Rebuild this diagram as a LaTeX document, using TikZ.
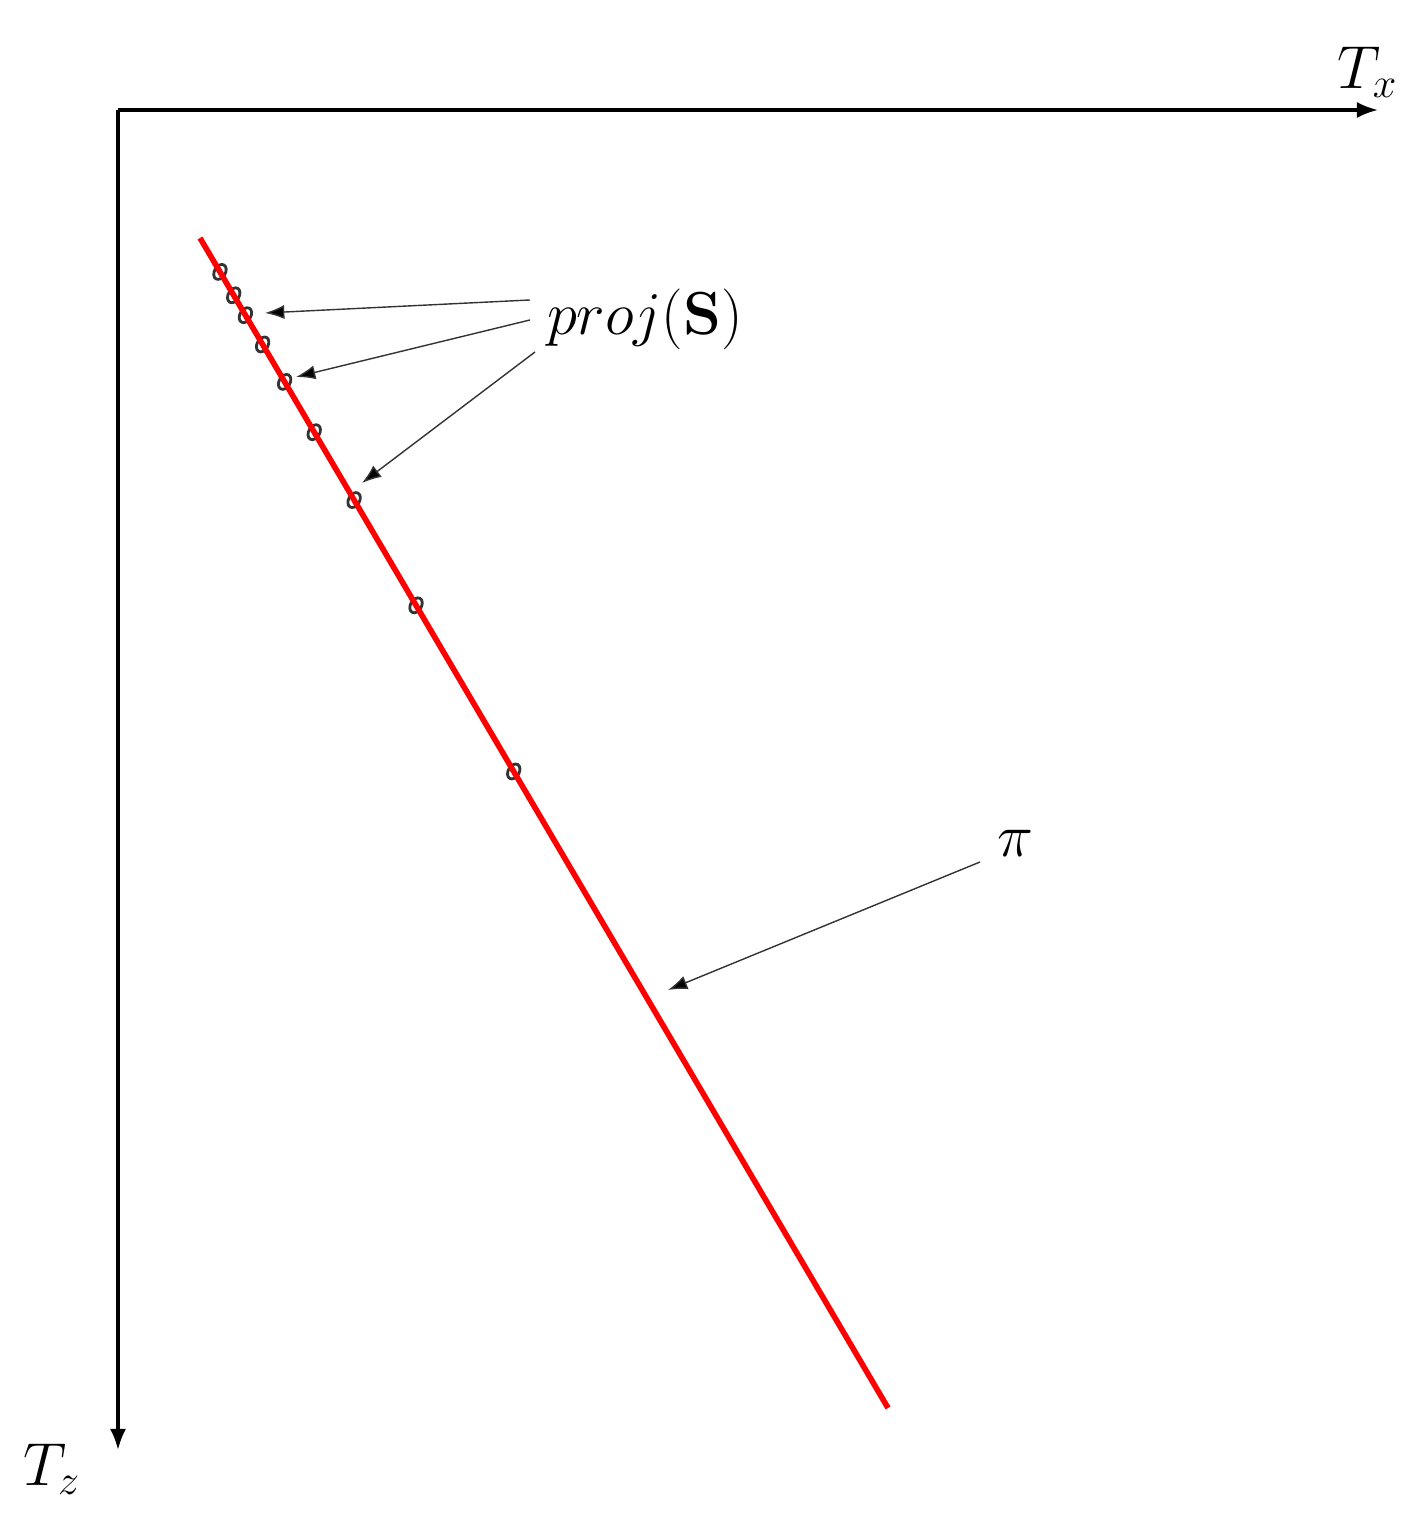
\documentclass[tikz,border=0pt]{standalone}
\usepackage{amsmath}
\usepackage{amssymb}
\usepackage{tikz}
\usetikzlibrary{calc,arrows.meta}

\begin{document}
\begin{tikzpicture}[axis/.style={line width=0.9pt,-{Latex[length=6pt,width=4.6pt]}},
	pointer/.style={line width=0.4pt,black!80,-{Latex[length=5.5pt,width=4pt,fill=black]}},
	lbl/.style={font=\fontsize{17}{20}\selectfont}]
	\useasboundingbox (0,0) rectangle (14.27,15.19);
	\coordinate (O) at (1.18,14.09);
	\coordinate (X) at (13.78,14.09);
	\coordinate (Z) at (1.18,0.69);
	\draw[axis] (O) -- (X);
	\draw[axis] (O) -- (Z);
	\node[lbl] (tx) at (13.68,14.47) {$T_x$};
	\node[lbl] (tz) at (0.52,0.50) {$T_z$};
	
	\coordinate (pa) at (2.00,12.81);
	\coordinate (pb) at (8.88,1.11);
	\foreach \t [count=\i] in {0.029,0.049,0.066,0.091,0.123,0.166,0.224,0.314,0.456}
		\draw[black!80,line width=0.8pt,rotate around={-30:($(pa)!\t!(pb)$)}] ($(pa)!\t!(pb)$) ellipse (0.055cm and 0.08cm) coordinate (s\i);
	\draw[red,line width=1.6pt] (pa) -- (pb);
	
	\node[lbl] (proj) at (6.45,12.00) {$proj(\mathbf{S})$};
	\coordinate (q1) at (2.65,12.06);
	\coordinate (q2) at (2.96,11.42);
	\coordinate (q3) at (3.62,10.36);
	\draw[pointer] (5.30,12.19) -- (q1);
	\draw[pointer] (5.30,11.99) -- (q2);
	\draw[pointer] (5.35,11.67) -- (q3);
	
	\node[lbl] (pi) at (10.15,6.76) {$\pi$};
	\coordinate (r) at (6.68,5.29);
	\draw[pointer] (9.80,6.57) -- (r);
\end{tikzpicture}
\end{document}
